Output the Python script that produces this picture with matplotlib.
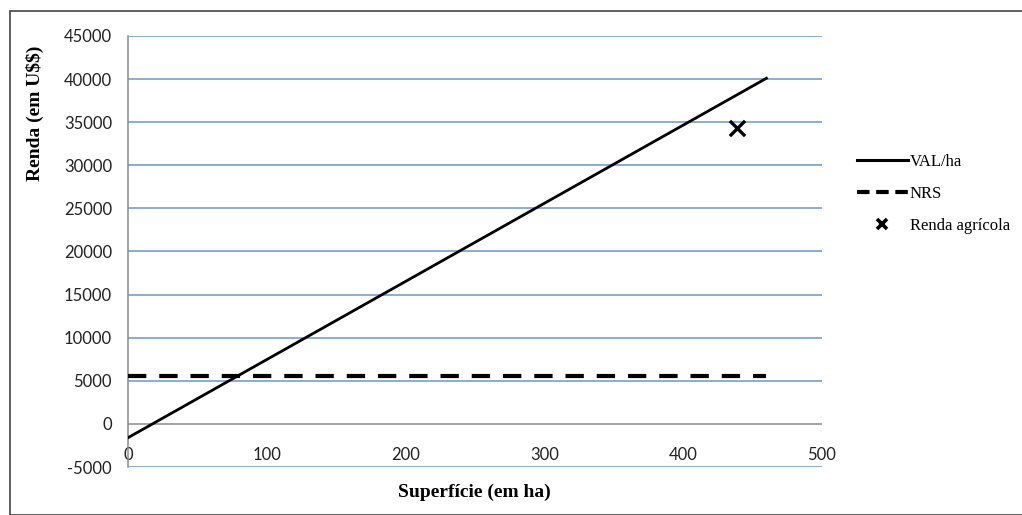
import matplotlib
matplotlib.use("Agg")
import matplotlib.pyplot as plt
from matplotlib.patches import Rectangle
from matplotlib.lines import Line2D

# Data
val_x = [0, 460]
val_y = [-1600, 40100]
nrs_x = [0, 460]
nrs_y = [5600, 5600]
renda_x = [439]
renda_y = [34300]
x_ticks = [0, 100, 200, 300, 400, 500]
y_ticks = [-5000, 0, 5000, 10000, 15000, 20000, 25000, 30000, 35000, 40000, 45000]

plt.rcParams['font.family'] = ['Liberation Serif', 'DejaVu Serif']

fig = plt.figure(figsize=(10.22, 5.15), dpi=100)
ax = fig.add_axes([128/1022, 1-467/515, (822-128)/1022, (467-36)/515])

grid_c = '#6F95CB'
for yv in y_ticks:
    if yv != 0:
        ax.axhline(yv, color=grid_c, lw=1.1, zorder=1)
ax.axhline(0, color='#8C8C8C', lw=1.1, zorder=1)

ax.plot(val_x, val_y, color='black', lw=2, zorder=3)
ax.plot(nrs_x, nrs_y, color='black', lw=3, ls=(0, (4.4, 3.1)), zorder=3)
ax.scatter(renda_x, renda_y, marker='x', s=120, color='black', linewidths=2.4, zorder=4)

ax.set_xlim(0, 500)
ax.set_ylim(-5000, 45000)
ax.set_xticks(x_ticks)
ax.set_yticks(y_ticks)
ax.set_yticklabels([str(v) for v in y_ticks], family=['Lato', 'DejaVu Sans'])
ax.set_xticklabels([str(v) for v in x_ticks], family=['Lato', 'DejaVu Sans'])

for s in ['top', 'right', 'bottom']:
    ax.spines[s].set_visible(False)
ax.spines['left'].set_color('#8C8C8C')
ax.spines['left'].set_linewidth(1.1)

ax.tick_params(axis='y', length=0, pad=11.5, labelsize=12, colors='#222222')
ax.tick_params(axis='x', length=0, labelsize=12, colors='#222222')
ax.xaxis.set_tick_params(pad=-14.6)

fig.text(35/1022, 1-113/515, 'Renda (em U\\$\\$)', rotation=90, ha='center', va='center',
         fontsize=14, fontweight='bold')
fig.text(474/1022, 1-492/515, 'Superfície (em ha)', ha='center', va='center',
         fontsize=14, fontweight='bold')

handles = [
    Line2D([], [], color='black', lw=2.2),
    Line2D([], [], color='black', lw=3, ls=(0, (3.0, 1.6))),
    Line2D([], [], color='black', lw=0, marker='x', markersize=7, markeredgewidth=2.6),
]
labels = ['VAL/ha', 'NRS', 'Renda agrícola']
fig.legend(handles, labels, loc='upper left', bbox_to_anchor=(842/1022, 1-139/515), frameon=False,
           fontsize=12, handlelength=3.05, handletextpad=0.12, labelspacing=0.95)

fig.patches.append(Rectangle((10/1022, 0), 1.2, 1-11/515, transform=fig.transFigure,
                             fill=False, edgecolor='#444444', lw=1.2))

fig.savefig('out.png', dpi=100)
